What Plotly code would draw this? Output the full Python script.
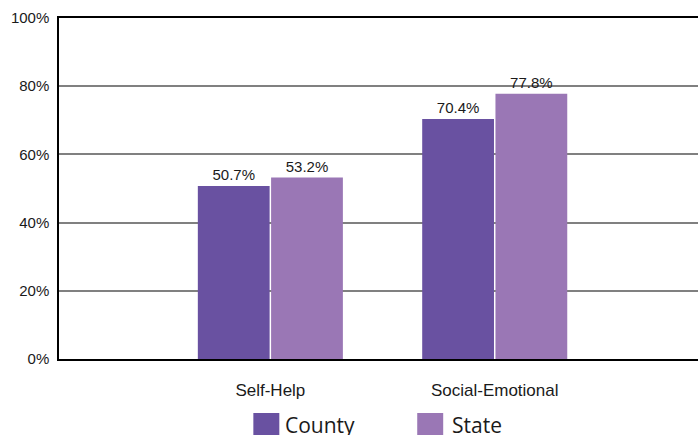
import plotly.graph_objects as go

categories = ["Self-Help", "Social-Emotional"]
county = [50.7, 70.4]
state = [53.2, 77.8]
y_ticks = [0, 20, 40, 60, 80, 100]
y_tick_labels = ["0%", "20%", "40%", "60%", "80%", "100%"]
series_names = ["County", "State"]
colors = ["#6951a1", "#9a77b5"]

W, H = 698, 435
ML, MR, MT, MB = 58.5, 0, 18, 76
PW, PH = W - ML - MR, H - MT - MB

def px_x(p):
    return (p - ML) / PW

def px_y(p):
    return (H - MB - p) / PH

fig = go.Figure()
for name, vals, col in zip(series_names, [county, state], colors):
    fig.add_trace(go.Bar(
        x=categories, y=vals, name=name, marker=dict(color=col, line=dict(width=0)),
        text=[f"{v:.1f}%" for v in vals], textposition="outside",
        textfont=dict(family="Liberation Sans, Arial", size=15, color="#1a1a1a"),
        cliponaxis=False, showlegend=False,
    ))

fig.update_layout(
    width=W, height=H,
    margin=dict(l=ML, r=MR, t=MT, b=MB, pad=0),
    paper_bgcolor="white", plot_bgcolor="white",
    barmode="group", bargap=0.347, bargroupgap=0.02,
    font=dict(family="Liberation Sans, Arial", color="#1a1a1a"),
    xaxis=dict(
        type="category", range=[-0.942, 1.906],
        showline=True, linecolor="black", linewidth=1.5, mirror=True,
        ticks="outside", ticklen=15, tickcolor="rgba(0,0,0,0)",
        tickfont=dict(size=17), showgrid=False,
    ),
    yaxis=dict(
        range=[0, 100], tickvals=y_ticks, ticktext=y_tick_labels,
        showline=True, linecolor="black", linewidth=1.5,
        showgrid=True, gridcolor="#808080", gridwidth=1.5,
        ticks="outside", ticklen=5, tickcolor="rgba(0,0,0,0)",
        tickfont=dict(size=15), zeroline=False,
    ),
)

# Custom legend at the bottom (large squares)
legend_items = [(253, 279, 283), (417, 443, 450)]
for (x0, x1, tx), name, col in zip(legend_items, series_names, colors):
    fig.add_shape(type="rect", xref="paper", yref="paper",
                  x0=px_x(x0), x1=px_x(x1), y0=px_y(440), y1=px_y(413),
                  fillcolor=col, line=dict(width=0), layer="above")
    fig.add_annotation(xref="paper", yref="paper", x=px_x(tx), y=px_y(409),
                       xanchor="left", yanchor="top", showarrow=False, text=name,
                       font=dict(family="Open Sans, Noto Sans", size=21, color="#1a1a1a"))

fig.write_html("out.html", config={"displayModeBar": False},
               post_script="document.body.style.margin='0';document.body.style.overflow='hidden';")
